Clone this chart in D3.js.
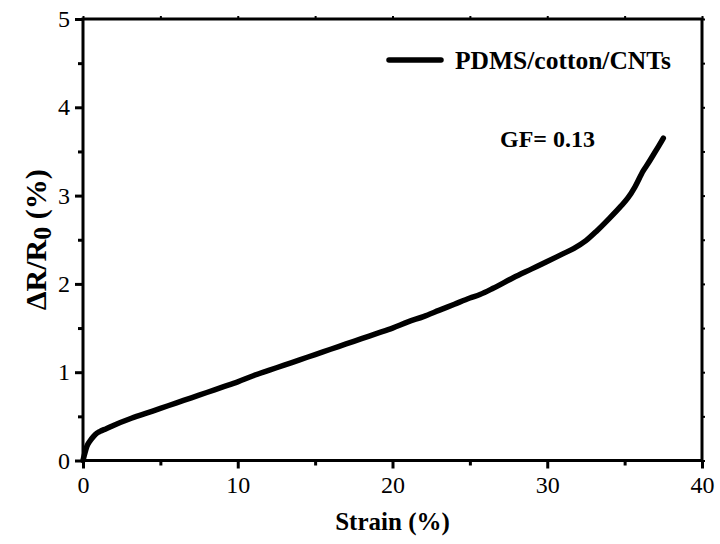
<!DOCTYPE html>
<html>
<head>
<meta charset="utf-8">
<script src="https://cdn.jsdelivr.net/npm/d3@7"></script>
<style>
  html, body { margin: 0; padding: 0; background: #fff; }
  svg { display: block; }
  text { font-family: "Liberation Serif", "Times New Roman", serif; fill: #000; }
</style>
</head>
<body>
<svg id="chart" width="720" height="544"></svg>
<script>
// Strain (%) and relative resistance change ΔR/R0 (%) for PDMS/cotton/CNTs
const strain = [0, 0.1, 0.24, 0.45, 0.67, 0.9, 1.1, 1.5, 2, 3, 4, 5, 6, 7, 8, 9, 10, 11, 12, 13, 14, 15, 16, 17, 18, 19, 20, 21, 22, 23, 24, 25, 25.65, 26.5, 27.8, 29, 29.96, 31, 31.7, 32.5, 33.2, 34, 34.7, 35.2, 35.67, 36.2, 36.5, 36.85, 37.2, 37.5];
const resistance = [0, 0.07, 0.156, 0.22, 0.27, 0.31, 0.33, 0.36, 0.40, 0.47, 0.53, 0.59, 0.65, 0.71, 0.77, 0.83, 0.89, 0.96, 1.02, 1.08, 1.14, 1.20, 1.26, 1.32, 1.38, 1.44, 1.50, 1.57, 1.63, 1.70, 1.77, 1.84, 1.88, 1.95, 2.07, 2.17, 2.25, 2.34, 2.40, 2.49, 2.60, 2.74, 2.87, 2.97, 3.10, 3.28, 3.36, 3.46, 3.56, 3.65];

const xTicks = [0, 10, 20, 30, 40];
const yTicks = [0, 1, 2, 3, 4, 5];
const xMinor = [5, 15, 25, 35];
const yMinor = [0.5, 1.5, 2.5, 3.5, 4.5];
const seriesName = "PDMS/cotton/CNTs";
const gfLabel = "GF= 0.13";

const svg = d3.select("#chart");
const plotL = 83, plotR = 702, plotT = 19, plotB = 460.5;

const x = d3.scaleLinear().domain([0, 40]).range([plotL, plotR]);
const y = d3.scaleLinear().domain([0, 5]).range([plotB, plotT]);

const axisW = 3;
const g = svg.append("g");

// frame
g.append("rect")
  .attr("x", plotL).attr("y", plotT)
  .attr("width", plotR - plotL).attr("height", plotB - plotT)
  .attr("fill", "none").attr("stroke", "#000").attr("stroke-width", axisW);

// bottom axis ticks and labels
const bottomAxis = d3.axisBottom(x).tickValues(xTicks).tickSize(8).tickFormat(d3.format("d"));
const bx = g.append("g").attr("transform", `translate(0,${plotB})`).call(bottomAxis);
bx.select(".domain").remove();
bx.selectAll(".tick line").attr("stroke", "#000").attr("stroke-width", axisW);
bx.selectAll(".tick text").attr("font-size", 24).attr("dy", "0.95em").attr("y", 10);

const bxMinor = d3.axisBottom(x).tickValues(xMinor).tickSize(5).tickFormat("");
const bm = g.append("g").attr("transform", `translate(0,${plotB})`).call(bxMinor);
bm.select(".domain").remove();
bm.selectAll(".tick line").attr("stroke", "#000").attr("stroke-width", axisW);

// left axis ticks and labels
const leftAxis = d3.axisLeft(y).tickValues(yTicks).tickSize(8).tickFormat(d3.format("d"));
const ly = g.append("g").attr("transform", `translate(${plotL},0)`).call(leftAxis);
ly.select(".domain").remove();
ly.selectAll(".tick line").attr("stroke", "#000").attr("stroke-width", axisW);
ly.selectAll(".tick text").attr("font-size", 24).attr("x", -13);

const lyMinor = d3.axisLeft(y).tickValues(yMinor).tickSize(5).tickFormat("");
const lm = g.append("g").attr("transform", `translate(${plotL},0)`).call(lyMinor);
lm.select(".domain").remove();
lm.selectAll(".tick line").attr("stroke", "#000").attr("stroke-width", axisW);

// mirrored ticks on top and right
const topAxis = d3.axisTop(x).tickValues(xTicks.concat(xMinor)).tickSize(3).tickFormat("");
const ta = g.append("g").attr("transform", `translate(0,${plotT})`).call(topAxis);
ta.select(".domain").remove();
ta.selectAll(".tick line").attr("stroke", "#000").attr("stroke-width", 2);

const rightAxis = d3.axisRight(y).tickValues(yTicks.concat(yMinor)).tickSize(3).tickFormat("");
const ra = g.append("g").attr("transform", `translate(${plotR},0)`).call(rightAxis);
ra.select(".domain").remove();
ra.selectAll(".tick line").attr("stroke", "#000").attr("stroke-width", 2);

// data curve
const line = d3.line().x((d, i) => x(strain[i])).y(d => y(d)).curve(d3.curveMonotoneX);
g.append("path")
  .datum(resistance)
  .attr("d", line)
  .attr("fill", "none")
  .attr("stroke", "#000")
  .attr("stroke-width", 5.5)
  .attr("stroke-linecap", "round")
  .attr("stroke-linejoin", "round");

// axis titles
g.append("text")
  .attr("x", (plotL + plotR) / 2).attr("y", 530)
  .attr("text-anchor", "middle")
  .attr("font-size", 25).attr("font-weight", "bold")
  .text("Strain (%)");

const yt = g.append("text")
  .attr("transform", `translate(46,${(plotT + plotB) / 2}) rotate(-90)`)
  .attr("text-anchor", "middle")
  .attr("font-size", 30).attr("font-weight", "bold");
yt.append("tspan").text("ΔR/R");
yt.append("tspan").attr("dy", 5).attr("font-size", 26).text("0");
yt.append("tspan").attr("dy", -5).text(" (%)");

// legend
g.append("line")
  .attr("x1", 389).attr("x2", 441).attr("y1", 60).attr("y2", 60)
  .attr("stroke", "#000").attr("stroke-width", 5.5).attr("stroke-linecap", "round");
g.append("text")
  .attr("x", 455).attr("y", 68.5)
  .attr("font-size", 25.5).attr("font-weight", "bold")
  .text(seriesName);

// gauge factor annotation
g.append("text")
  .attr("x", 500).attr("y", 147)
  .attr("font-size", 24).attr("font-weight", "bold")
  .text(gfLabel);
</script>
</body>
</html>
